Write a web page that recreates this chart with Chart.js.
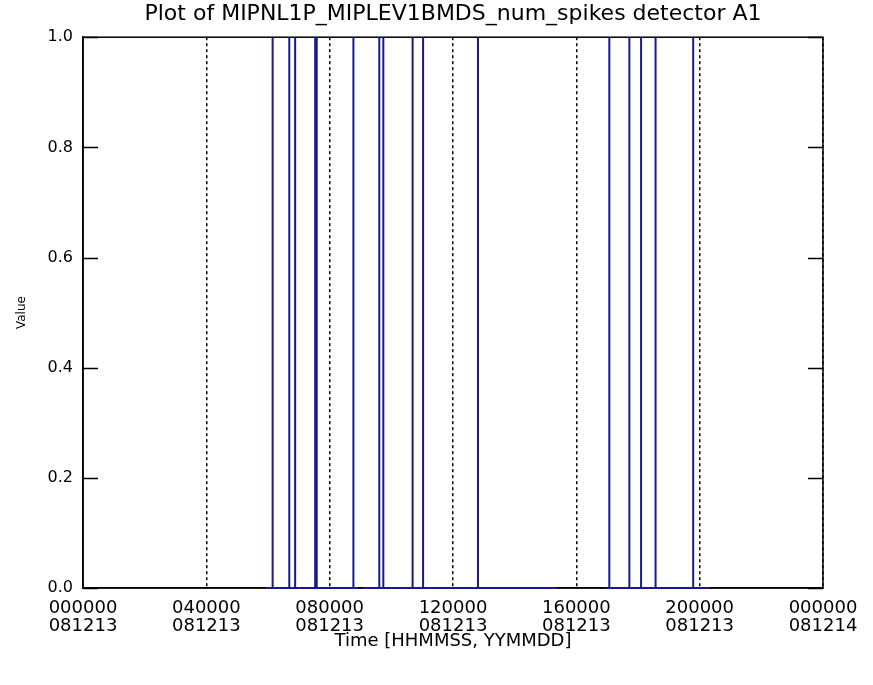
<!DOCTYPE html>
<html>
<head>
<meta charset="utf-8">
<script src="https://cdn.jsdelivr.net/npm/chart.js@4/dist/chart.umd.min.js"></script>
<style>
  body { margin: 0; background: #fff; }
  #myChart { display: block; }
</style>
</head>
<body>
<canvas id="myChart" width="873" height="685"></canvas>
<script>
// time in hours of 2008-12-13
const segmentStarts = [5.94, 9.08, 16.99];
const segmentEnds = [8.92, 15.37, 20.34];
const spikeTimes = [6.15, 6.69, 6.88, 7.53, 7.58, 8.77, 9.61, 9.74, 10.69, 11.03, 12.81,
                    17.07, 17.72, 18.10, 18.57, 19.79];
const xTickHours = [0, 4, 8, 12, 16, 20, 24];
const xTickTimes = ['000000', '040000', '080000', '120000', '160000', '200000', '000000'];
const xTickDates = ['081213', '081213', '081213', '081213', '081213', '081213', '081214'];
const yTicks = [0, 0.2, 0.4, 0.6, 0.8, 1.0];

const points = [];
for (let i = 0; i < segmentStarts.length; i++) {
    points.push({ x: segmentStarts[i], y: 0 });
    spikeTimes.filter(t => t > segmentStarts[i] && t < segmentEnds[i]).forEach(t => {
        points.push({ x: t, y: 0 });
        points.push({ x: t, y: 1 });
        points.push({ x: t, y: 0 });
    });
    points.push({ x: segmentEnds[i], y: 0 });
    points.push({ x: segmentEnds[i], y: null });
}

// IDL style frame: box round the plot and y ticks pointing inwards on both sides
const framePlugin = {
    id: 'frame',
    beforeDatasetsDraw(chart) {
        const { ctx, chartArea: a, scales } = chart;
        ctx.save();
        ctx.strokeStyle = '#000';
        ctx.lineWidth = 1.5;
        ctx.strokeRect(a.left, a.top, a.right - a.left, a.bottom - a.top);
        ctx.beginPath();
        yTicks.forEach(v => {
            const y = Math.round(scales.y.getPixelForValue(v)) + 0.5;
            ctx.moveTo(a.left, y); ctx.lineTo(a.left + 15, y);
            ctx.moveTo(a.right - 15, y); ctx.lineTo(a.right, y);
        });
        ctx.stroke();
        ctx.restore();
    }
};

const config = {
    type: 'line',
    data: {
        datasets: [{
            data: points,
            borderColor: 'rgb(25, 25, 140)',
            borderWidth: 2,
            pointRadius: 0,
            spanGaps: false,
            clip: false,
            tension: 0
        }]
    },
    options: {
        responsive: false,
        animation: false,
        layout: { padding: { top: 2, right: 50, left: 0, bottom: 0 } },
        plugins: {
            legend: { display: false },
            tooltip: { enabled: false },
            title: {
                display: true,
                fullSize: false,
                text: 'Plot of MIPNL1P_MIPLEV1BMDS_num_spikes detector A1',
                color: '#000',
                font: { family: 'DejaVu Sans', size: 22, weight: 'normal', lineHeight: 1.1 },
                padding: { top: 0, bottom: 11 }
            }
        },
        scales: {
            x: {
                type: 'linear',
                min: 0,
                max: 24,
                afterFit(scale) { scale.height = 97; },
                afterBuildTicks(scale) { scale.ticks = xTickHours.map(v => ({ value: v })); },
                ticks: {
                    autoSkip: false,
                    maxRotation: 0,
                    padding: 11,
                    color: '#000',
                    font: { family: 'DejaVu Sans', size: 18, lineHeight: 1.0 },
                    callback: (v) => {
                        const i = xTickHours.indexOf(v);
                        return [xTickTimes[i], xTickDates[i]];
                    }
                },
                grid: {
                    color: '#000',
                    lineWidth: 1.5,
                    drawTicks: false
                },
                // in v4 the dash of the grid lines comes from border.dash
                border: { display: true, color: '#000', width: 1.5, dash: [3, 3] },
                title: {
                    display: true,
                    text: 'Time [HHMMSS, YYMMDD]',
                    color: '#000',
                    font: { family: 'DejaVu Sans', size: 18 },
                    padding: { top: 0, bottom: 33 }
                }
            },
            y: {
                min: 0,
                max: 1,
                afterFit(scale) { scale.width = 83; },
                afterBuildTicks(scale) { scale.ticks = yTicks.map(v => ({ value: v })); },
                ticks: {
                    padding: 10,
                    color: '#000',
                    font: { family: 'DejaVu Sans', size: 16 },
                    callback: (v) => v.toFixed(1)
                },
                grid: { display: false, drawTicks: false },
                border: { display: true, color: '#000', width: 1.5 },
                title: {
                    display: true,
                    text: 'Value',
                    color: '#000',
                    font: { family: 'DejaVu Sans', size: 12 },
                    padding: { top: 15, bottom: 0 }
                }
            }
        }
    },
    plugins: [framePlugin]
};

const myChart = new Chart(document.getElementById('myChart'), config);
</script>
</body>
</html>
